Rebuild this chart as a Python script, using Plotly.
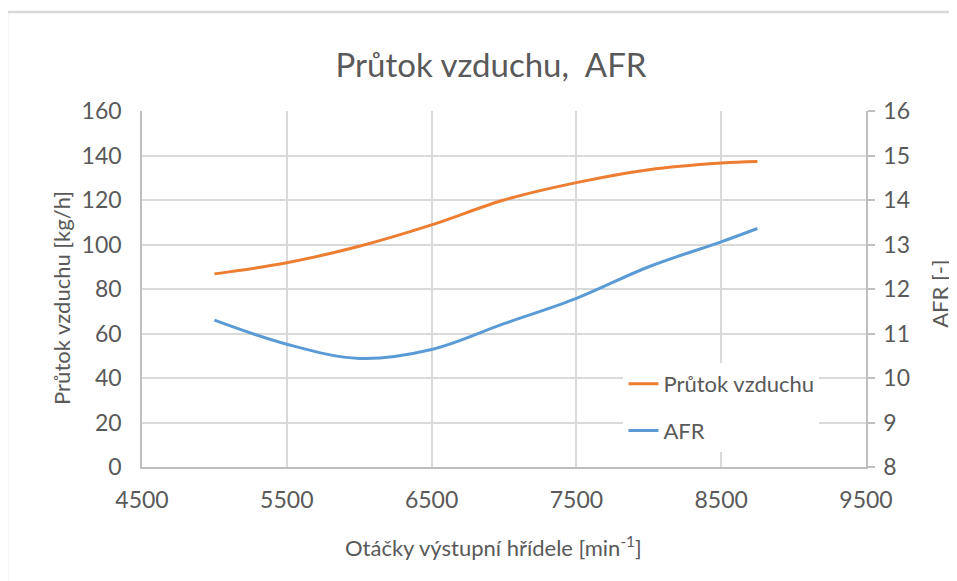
import plotly.graph_objects as go

# otacky [min-1]
otacky = [5000, 5500, 6000, 6500, 7000, 7500, 8000, 8500, 8750]
# prutok vzduchu [kg/h]
prutok = [86.8, 91.8, 99.2, 108.8, 120.0, 127.8, 133.6, 136.6, 137.3]
# AFR [-]
afr = [11.30, 10.76, 10.44, 10.64, 11.22, 11.79, 12.50, 13.06, 13.36]

x_ticks = [4500, 5500, 6500, 7500, 8500, 9500]

font = "Lato, 'Open Sans', sans-serif"
grey = "#595959"

fig = go.Figure()

fig.add_trace(go.Scatter(
    x=otacky, y=prutok, name="Průtok vzduchu",
    mode="lines", line=dict(color="#ED7D31", width=3, shape="spline"),
    legendgroup="a"))

fig.add_trace(go.Scatter(
    x=otacky, y=afr, name="AFR", yaxis="y2",
    mode="lines", line=dict(color="#5B9BD5", width=3, shape="spline"),
    legendgroup="b"))

# the page body has an 8px margin, so the figure is a bit smaller
fig.update_layout(
    width=949, height=573,
    margin=dict(l=134, r=91, t=103, b=114),
    paper_bgcolor="white", plot_bgcolor="white",
    font=dict(family=font, color=grey, size=22),
    title=dict(text="Průtok vzduchu,  AFR", x=0.509, xanchor="center",
               y=0.9, yanchor="middle",
               font=dict(size=33, color=grey)),
    xaxis=dict(range=[4500, 9500], tickvals=x_ticks,
               showgrid=True, gridcolor="#d9d9d9", gridwidth=1.5,
               showline=True, linecolor="#bfbfbf", linewidth=1.5,
               zeroline=False, ticks="", ticklabelstandoff=12,
               tickfont=dict(size=23, color=grey)),
    yaxis=dict(range=[0, 160], dtick=20, tick0=0,
               showgrid=True, gridcolor="#d9d9d9", gridwidth=1.5,
               showline=True, linecolor="#bfbfbf", linewidth=1.5,
               zeroline=False, ticks="", ticklabelstandoff=14,
               tickfont=dict(size=23, color=grey)),
    yaxis2=dict(range=[8, 16], dtick=1, tick0=8, overlaying="y", side="right",
                showgrid=False, showline=True, linecolor="#bfbfbf", linewidth=1.5,
                zeroline=False, ticks="outside", ticklen=7, tickcolor="#bfbfbf",
                tickwidth=1.5, ticklabelstandoff=4,
                tickfont=dict(size=23, color=grey)),
    legend=dict(x=0.665, y=0.292, xanchor="left", yanchor="top",
                bgcolor="white", font=dict(size=22, color=grey),
                traceorder="grouped", tracegroupgap=15),
    shapes=[dict(type="rect", xref="paper", yref="paper",
                 x0=-135 / 724, x1=1.2, y0=-0.4, y1=1 + 99 / 356,
                 line=dict(color="#d9d9d9", width=2.5), layer="below")],
    annotations=[
        dict(text="Otáčky výstupní hřídele [min<sup>-1</sup>]",
             xref="paper", yref="paper", x=0.485, y=-0.222,
             xanchor="center", yanchor="middle", showarrow=False,
             font=dict(size=22, color=grey)),
        dict(text="Průtok vzduchu [kg/h]", textangle=-90,
             xref="paper", yref="paper", x=-0.1105, y=0.475,
             xanchor="center", yanchor="middle", showarrow=False,
             font=dict(size=22, color=grey)),
        dict(text="AFR [-]", textangle=-90,
             xref="paper", yref="paper", x=1.102, y=0.486,
             xanchor="center", yanchor="middle", showarrow=False,
             font=dict(size=22, color=grey)),
    ],
)

fig.write_html("out.html")
